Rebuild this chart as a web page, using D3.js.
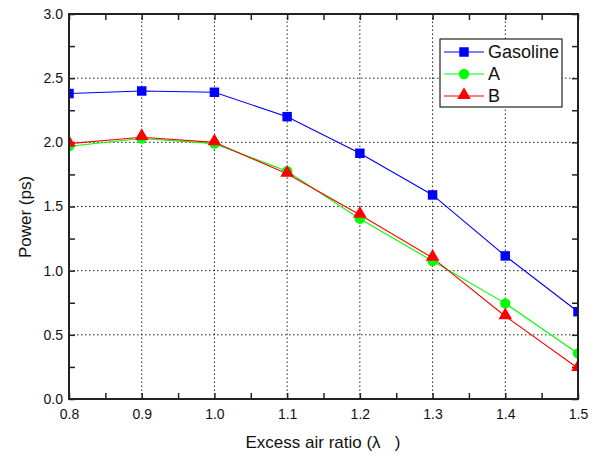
<!DOCTYPE html>
<html><head><meta charset="utf-8">
<script src="https://cdn.jsdelivr.net/npm/d3@7"></script>
<style>body{margin:0;background:#fff}svg{display:block}text{font-family:"Liberation Sans",Arial,sans-serif;fill:#111}</style>
</head><body>
<script>
const xValues = [0.8, 0.9, 1.0, 1.1, 1.2, 1.3, 1.4, 1.5];
const gasoline = [2.38, 2.40, 2.39, 2.20, 1.915, 1.59, 1.115, 0.68];
const seriesA = [1.97, 2.03, 1.99, 1.775, 1.405, 1.075, 0.745, 0.355];
const seriesB = [1.99, 2.04, 2.00, 1.755, 1.435, 1.10, 0.645, 0.24];
const xTicks = [0.8, 0.9, 1.0, 1.1, 1.2, 1.3, 1.4, 1.5];
const yTicks = [0.0, 0.5, 1.0, 1.5, 2.0, 2.5, 3.0];
const seriesNames = ["Gasoline", "A", "B"];

const W = 594, H = 457;
const m = {l: 69, r: 16, t: 14, b: 58};
const svg = d3.select("body").append("svg").attr("width", W).attr("height", H);
const x = d3.scaleLinear().domain([0.8, 1.5]).range([m.l, W - m.r]);
const y = d3.scaleLinear().domain([0, 3]).range([H - m.b, m.t]);
const x0 = m.l, x1 = W - m.r, y0 = H - m.b, y1 = m.t;

svg.append("defs").append("clipPath").attr("id", "clip")
  .append("rect").attr("x", x0).attr("y", y1).attr("width", x1 - x0).attr("height", y0 - y1);

// grid
const g = svg.append("g");
g.selectAll(".gx").data(xTicks.slice(1, -1)).enter().append("line")
  .attr("x1", d => x(d)).attr("x2", d => x(d)).attr("y1", y0).attr("y2", y1)
  .attr("stroke", "#222").attr("stroke-width", 1).attr("stroke-dasharray", "1.5,2.5");
g.selectAll(".gy").data(yTicks.slice(1, -1)).enter().append("line")
  .attr("y1", d => y(d)).attr("y2", d => y(d)).attr("x1", x0).attr("x2", x1)
  .attr("stroke", "#222").attr("stroke-width", 1).attr("stroke-dasharray", "1.5,2.5");

// axes (ticks inward)
const minorX = d3.range(0.8, 1.5001, 0.05);
const minorY = d3.range(0, 3.0001, 0.25);
svg.append("g").attr("transform", `translate(0,${y0})`)
  .call(d3.axisBottom(x).tickValues(minorX).tickSize(-6).tickFormat(""))
  .call(a => a.select(".domain").remove());
svg.append("g").attr("transform", `translate(0,${y1})`)
  .call(d3.axisTop(x).tickValues(minorX).tickSize(-6).tickFormat(""))
  .call(a => a.select(".domain").remove());
svg.append("g").attr("transform", `translate(${x0},0)`)
  .call(d3.axisLeft(y).tickValues(minorY).tickSize(-6).tickFormat(""))
  .call(a => a.select(".domain").remove());
svg.append("g").attr("transform", `translate(${x1},0)`)
  .call(d3.axisRight(y).tickValues(minorY).tickSize(-6).tickFormat(""))
  .call(a => a.select(".domain").remove());
svg.selectAll(".tick line").attr("stroke", "#222").attr("stroke-width", 1.5);

// tick labels
svg.append("g").attr("transform", `translate(0,${y0})`)
  .call(d3.axisBottom(x).tickValues(xTicks).tickSize(0).tickPadding(10).tickFormat(d3.format(".1f")))
  .call(a => a.select(".domain").remove())
  .selectAll("text").attr("font-size", 14).style("font-family", '"Liberation Sans",Arial,sans-serif').attr("fill", "#111");
svg.append("g").attr("transform", `translate(${x0},0)`)
  .call(d3.axisLeft(y).tickValues(yTicks).tickSize(0).tickPadding(6).tickFormat(d3.format(".1f")))
  .call(a => a.select(".domain").remove())
  .selectAll("text").attr("font-size", 14).style("font-family", '"Liberation Sans",Arial,sans-serif').attr("fill", "#111");

// frame
svg.append("rect").attr("x", x0).attr("y", y1).attr("width", x1 - x0).attr("height", y0 - y1)
  .attr("fill", "none").attr("stroke", "#222").attr("stroke-width", 2);

// data
const series = [
  {name: seriesNames[0], vals: gasoline, color: "#0000ff", shape: "square"},
  {name: seriesNames[1], vals: seriesA, color: "#00ff00", shape: "circle"},
  {name: seriesNames[2], vals: seriesB, color: "#ff0000", shape: "triangle"}
];
const sym = {square: d3.symbol(d3.symbolSquare, 90), circle: d3.symbol(d3.symbolCircle, 85), triangle: d3.symbol(d3.symbolTriangle, 80)};
const line = d3.line().x((d, i) => x(xValues[i])).y(d => y(d));
const plot = svg.append("g").attr("clip-path", "url(#clip)");
series.forEach(s => {
  plot.append("path").attr("d", line(s.vals)).attr("fill", "none").attr("stroke", s.color).attr("stroke-width", 1.1);
});
series.forEach(s => {
  plot.selectAll(null).data(s.vals).enter().append("path")
    .attr("d", sym[s.shape]())
    .attr("transform", (d, i) => `translate(${x(xValues[i])},${y(d) + (s.shape === "triangle" ? -1 : 0)})`)
    .attr("fill", s.color);
});
// redraw left/right frame lines on top
svg.append("line").attr("x1", x0).attr("x2", x0).attr("y1", y1).attr("y2", y0).attr("stroke", "#222").attr("stroke-width", 2);
svg.append("line").attr("x1", x1).attr("x2", x1).attr("y1", y1).attr("y2", y0).attr("stroke", "#222").attr("stroke-width", 2);

// legend
const lg = svg.append("g");
lg.append("rect").attr("x", 440).attr("y", 39).attr("width", 122).attr("height", 68)
  .attr("fill", "#fff").attr("stroke", "#222").attr("stroke-width", 1.2);
series.forEach((s, i) => {
  const yy = 52 + i * 22;
  lg.append("line").attr("x1", 444).attr("x2", 484).attr("y1", yy).attr("y2", yy).attr("stroke", s.color).attr("stroke-width", 1.2);
  lg.append("path").attr("d", sym[s.shape]()).attr("transform", `translate(464,${yy + (s.shape === "triangle" ? -1 : 0)})`).attr("fill", s.color);
  lg.append("text").attr("x", 488).attr("y", yy + 6).attr("font-size", 18).text(s.name);
});

// axis titles
svg.append("text").attr("x", 323).attr("y", 448).attr("text-anchor", "middle").attr("font-size", 17).text("Excess air ratio (λ\u00a0\u00a0\u00a0)");
svg.append("text").attr("transform", "translate(31,217) rotate(-90)").attr("text-anchor", "middle").attr("font-size", 17).text("Power (ps)");
</script>
</body></html>
